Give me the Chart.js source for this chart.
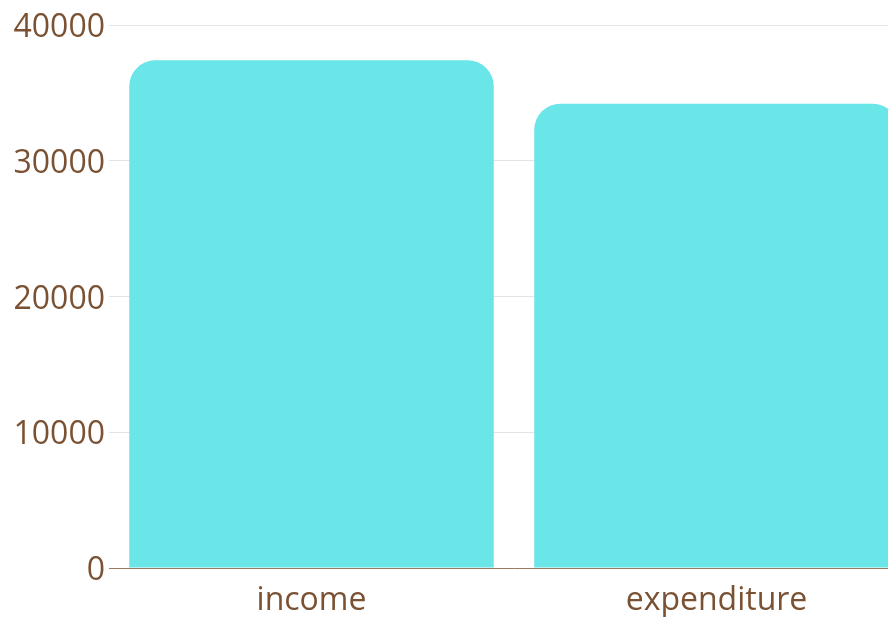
<!DOCTYPE html>
<html>
<head>
<meta charset="utf-8">
<script src="https://cdn.jsdelivr.net/npm/chart.js@4"></script>
<style>
    html, body { margin: 0; padding: 0; overflow: hidden; background: #ffffff; }
    #wrap { width: 919px; height: 617px; }
</style>
</head>
<body>
<div id="wrap"><canvas id="chartBalance" width="919" height="617"></canvas></div>
<script>
// datos del gráfico
const categorias = ['income', 'expenditure'];
const valores = [37400, 34200];
const ticksY = [0, 10000, 20000, 30000, 40000];

const colores = {
    barra: '#6AE5E8',
    texto: '#7A5233',
    grid: '#e3e3e3',
    eje: '#9c7a5f'
};

const fuente = { family: "'Open Sans', sans-serif", size: 32 };

document.addEventListener('DOMContentLoaded', function() {
    const ctx = document.getElementById('chartBalance').getContext('2d');

    new Chart(ctx, {
        type: 'bar',
        data: {
            labels: categorias,
            datasets: [{
                data: valores,
                backgroundColor: colores.barra,
                borderWidth: 0,
                borderRadius: 26,
                borderSkipped: 'start',
                categoryPercentage: 1,
                barPercentage: 0.9
            }]
        },
        options: {
            responsive: false,
            animation: false,
            layout: { padding: { top: 25, right: 0, bottom: 0, left: 0 } },
            plugins: {
                legend: { display: false },
                tooltip: { enabled: false }
            },
            scales: {
                y: {
                    min: ticksY[0],
                    max: ticksY[ticksY.length - 1],
                    afterBuildTicks: function(scale) {
                        scale.ticks = ticksY.map(v => ({ value: v }));
                    },
                    afterFit: function(scale) {
                        scale.width = 109;
                    },
                    ticks: {
                        color: colores.texto,
                        font: fuente,
                        padding: 4,
                        labelOffset: 3,
                        callback: function(value) {
                            return String(value);
                        }
                    },
                    grid: {
                        color: colores.grid,
                        drawTicks: false
                    },
                    border: { display: false }
                },
                x: {
                    afterFit: function(scale) {
                        scale.height = 49;
                    },
                    ticks: {
                        color: colores.texto,
                        font: fuente,
                        padding: 14
                    },
                    grid: {
                        display: false,
                        drawTicks: false
                    },
                    border: { color: colores.eje, width: 1 }
                }
            }
        }
    });
});
</script>
</body>
</html>
